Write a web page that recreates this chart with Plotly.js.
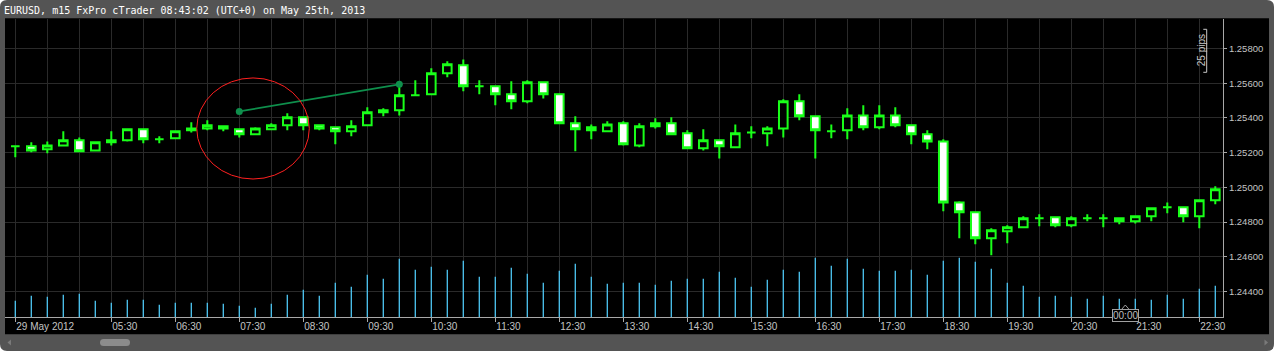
<!DOCTYPE html>
<html>
<head>
<meta charset="utf-8">
<script src="https://cdn.plot.ly/plotly-3.0.1.min.js"></script>
<style>
  html, body { margin: 0; padding: 0; background: #ffffff; }
  #chart { width: 1274px; height: 351px; }
</style>
</head>
<body>
<div id="chart"></div>
<script>
// ---- data ----
const day = "2012-05-29";
const times = ["04:00","04:15","04:30","04:45","05:00","05:15","05:30","05:45","06:00","06:15",
  "06:30","06:45","07:00","07:15","07:30","07:45","08:00","08:15","08:30","08:45",
  "09:00","09:15","09:30","09:45","10:00","10:15","10:30","10:45","11:00","11:15",
  "11:30","11:45","12:00","12:15","12:30","12:45","13:00","13:15","13:30","13:45",
  "14:00","14:15","14:30","14:45","15:00","15:15","15:30","15:45","16:00","16:15",
  "16:30","16:45","17:00","17:15","17:30","17:45","18:00","18:15","18:30","18:45",
  "19:00","19:15","19:30","19:45","20:00","20:15","20:30","20:45","21:00","21:15",
  "21:30","21:45","22:00","22:15","22:30","22:45"];

const openP = [1.25237,1.25237,1.25219,1.25242,1.25271,1.25213,1.25260,1.25271,1.25335,1.25277,
  1.25283,1.25329,1.25340,1.25352,1.25335,1.25306,1.25335,1.25358,1.25404,1.25358,
  1.25346,1.25323,1.25358,1.25444,1.25444,1.25531,1.25537,1.25658,1.25704,1.25583,
  1.25583,1.25537,1.25496,1.25606,1.25537,1.25369,1.25346,1.25323,1.25369,1.25242,
  1.25352,1.25369,1.25312,1.25225,1.25271,1.25231,1.25317,1.25312,1.25340,1.25496,
  1.25410,1.25323,1.25329,1.25415,1.25346,1.25415,1.25358,1.25306,1.25265,1.24913,
  1.24856,1.24706,1.24746,1.24769,1.24821,1.24827,1.24781,1.24821,1.24821,1.24821,
  1.24804,1.24833,1.24885,1.24885,1.24833,1.24925];

const highP = [1.25237,1.25260,1.25265,1.25323,1.25288,1.25260,1.25323,1.25340,1.25335,1.25294,
  1.25329,1.25375,1.25387,1.25358,1.25340,1.25346,1.25369,1.25427,1.25404,1.25363,
  1.25352,1.25387,1.25462,1.25456,1.25594,1.25617,1.25687,1.25727,1.25738,1.25617,
  1.25583,1.25612,1.25617,1.25606,1.25542,1.25410,1.25363,1.25381,1.25381,1.25369,
  1.25398,1.25404,1.25329,1.25335,1.25271,1.25363,1.25352,1.25352,1.25508,1.25537,
  1.25415,1.25363,1.25456,1.25473,1.25473,1.25462,1.25363,1.25329,1.25277,1.24919,
  1.24856,1.24764,1.24781,1.24833,1.24844,1.24833,1.24833,1.24844,1.24844,1.24827,
  1.24833,1.24885,1.24913,1.24885,1.24931,1.25006];

const lowP = [1.25173,1.25202,1.25196,1.25242,1.25208,1.25208,1.25242,1.25265,1.25254,1.25254,
  1.25277,1.25317,1.25329,1.25323,1.25288,1.25306,1.25335,1.25329,1.25329,1.25329,
  1.25248,1.25294,1.25352,1.25410,1.25415,1.25525,1.25537,1.25635,1.25554,1.25537,
  1.25473,1.25450,1.25485,1.25513,1.25369,1.25208,1.25277,1.25323,1.25242,1.25231,
  1.25340,1.25306,1.25219,1.25213,1.25167,1.25231,1.25283,1.25237,1.25288,1.25387,
  1.25167,1.25283,1.25277,1.25329,1.25335,1.25346,1.25248,1.25219,1.24862,1.24706,
  1.24671,1.24608,1.24677,1.24764,1.24775,1.24769,1.24769,1.24804,1.24769,1.24787,
  1.24792,1.24804,1.24850,1.24798,1.24764,1.24902];

const closeP = [1.25237,1.25213,1.25242,1.25271,1.25208,1.25260,1.25271,1.25335,1.25277,1.25277,
  1.25323,1.25340,1.25358,1.25340,1.25306,1.25340,1.25358,1.25404,1.25358,1.25340,
  1.25323,1.25352,1.25433,1.25433,1.25531,1.25531,1.25658,1.25710,1.25583,1.25583,
  1.25537,1.25496,1.25606,1.25537,1.25369,1.25335,1.25329,1.25363,1.25248,1.25352,
  1.25369,1.25306,1.25225,1.25271,1.25237,1.25312,1.25317,1.25340,1.25496,1.25410,
  1.25329,1.25323,1.25415,1.25346,1.25415,1.25358,1.25306,1.25265,1.24913,1.24856,
  1.24706,1.24752,1.24769,1.24821,1.24821,1.24781,1.24821,1.24821,1.24821,1.24804,
  1.24833,1.24879,1.24885,1.24833,1.24925,1.24989];

const volume = [163,213,203,223,233,163,143,173,173,123,
  143,143,143,133,113,93,133,223,273,213,
  343,303,423,383,583,473,503,473,563,403,
  403,493,433,343,463,533,403,333,343,343,
  323,363,383,383,453,393,303,373,473,453,
  593,513,583,483,463,463,473,423,563,593,
  553,483,343,313,203,213,203,183,213,183,
  183,173,223,183,283,313];

const tickTimes = ["04:00","05:30","06:30","07:30","08:30","09:30","10:30","11:30","12:30","13:30",
  "14:30","15:30","16:30","17:30","18:30","19:30","20:30","21:30","22:30"];
const tickLabels = ["29 May 2012","05:30","06:30","07:30","08:30","09:30","10:30","11:30","12:30","13:30",
  "14:30","15:30","16:30","17:30","18:30","19:30","20:30","21:30","22:30"];

const trendTimes = ["07:30","10:00"];
const trendPrices = [1.25438, 1.25594];

const titleText = "EURUSD, m15 FxPro cTrader 08:43:02 (UTC+0) on May 25th, 2013";

// ---- layout helpers (pixel -> paper) ----
const L = 5, T = 19, W = 1218, H = 298;
const PX = x => (x - L) / W;
const PY = y => (T + H - y) / H;
function rr(x0, y0, x1, y1, r) {
  return `M${PX(x0 + r)},${PY(y0)} L${PX(x1 - r)},${PY(y0)} Q${PX(x1)},${PY(y0)} ${PX(x1)},${PY(y0 + r)} ` +
    `L${PX(x1)},${PY(y1 - r)} Q${PX(x1)},${PY(y1)} ${PX(x1 - r)},${PY(y1)} ` +
    `L${PX(x0 + r)},${PY(y1)} Q${PX(x0)},${PY(y1)} ${PX(x0)},${PY(y1 - r)} ` +
    `L${PX(x0)},${PY(y0 + r)} Q${PX(x0)},${PY(y0)} ${PX(x0 + r)},${PY(y0)} Z`;
}

const xs = times.map(t => day + " " + t);
const green = "#19ff19";

const candles = {
  type: "candlestick",
  x: xs, open: openP, high: highP, low: lowP, close: closeP,
  increasing: { line: { color: green, width: 2 }, fillcolor: "#000000" },
  decreasing: { line: { color: green, width: 2 }, fillcolor: "#ffffff" },
  whiskerwidth: 0,
  hoverinfo: "skip",
  showlegend: false
};

const vol = {
  type: "bar",
  x: xs, y: volume, yaxis: "y2",
  width: 75000,
  marker: { color: "#4cc2ee", line: { width: 0 } },
  hoverinfo: "skip",
  showlegend: false
};

const trend = {
  type: "scatter", mode: "lines+markers",
  x: trendTimes.map(t => day + " " + t), y: trendPrices,
  line: { color: "#0e8f4c", width: 1.6 },
  marker: { color: "#0e8f4c", size: 7 },
  hoverinfo: "skip", showlegend: false
};

const labelColor = "#c4c4c4";
const gridColor = "#2a2a2a";

const layout = {
  width: 1274, height: 351,
  margin: { l: L, r: 1274 - L - W, t: T, b: 351 - T - H, pad: 0 },
  paper_bgcolor: "#ffffff",
  plot_bgcolor: "#000000",
  showlegend: false,
  boxgap: 0.3, boxgroupgap: 0.23,
  title: {
    text: titleText,
    x: 4 / 1274, xref: "container", xanchor: "left",
    y: 1 - 10 / 351, yref: "container", yanchor: "middle",
    font: { family: "DejaVu Sans Mono", size: 10, color: "#ffffff" }
  },
  xaxis: {
    type: "date",
    range: [day + " 03:50:20", day + " 22:52:13"],
    rangeslider: { visible: false },
    tickmode: "array",
    tickvals: tickTimes.map(t => day + " " + t),
    ticktext: tickLabels,
    ticklabelposition: "outside right",
    ticks: "outside", ticklen: 4, tickcolor: "#a8a8a8", tickwidth: 1,
    showline: true, linecolor: "#a8a8a8", linewidth: 1,
    showgrid: true, gridcolor: gridColor, gridwidth: 1,
    minor: { tickmode: "linear", tick0: day + " 04:00", dtick: 1800000, showgrid: true, gridcolor: gridColor, gridwidth: 1, ticks: "" },
    tickfont: { family: "Liberation Sans", size: 10, color: labelColor },
    zeroline: false, fixedrange: true
  },
  yaxis: {
    side: "right",
    range: [1.24252, 1.25971],
    tickmode: "linear", tick0: 1.244, dtick: 0.002,
    tickformat: ".5f",
    ticks: "outside", ticklen: 3, tickcolor: "#a8a8a8",
    showline: true, linecolor: "#a8a8a8", linewidth: 1,
    showgrid: true, gridcolor: gridColor, gridwidth: 1,
    tickfont: { family: "Liberation Sans", size: 9.5, color: labelColor },
    zeroline: false, fixedrange: true
  },
  yaxis2: {
    overlaying: "y", range: [0, 2980], visible: false, fixedrange: true
  },
  shapes: [
    // outer frame
    { type: "path", xref: "paper", yref: "paper", layer: "below", path: rr(0, 0, 1274, 351, 7),
      fillcolor: "#545454", line: { width: 0 } },
    // black chart area (incl. axis label zones)
    { type: "rect", xref: "paper", yref: "paper", layer: "below",
      x0: PX(5), x1: PX(1269), y0: PY(334.3), y1: PY(18.3),
      fillcolor: "#000000", line: { width: 0 } },
    // scrollbar thumb
    { type: "path", xref: "paper", yref: "paper", layer: "above", path: rr(100, 339, 130, 346, 3.5),
      fillcolor: "#8c8c8c", line: { width: 0 } },
    // scrollbar arrows
    { type: "path", xref: "paper", yref: "paper", layer: "above",
      path: `M${PX(7.5)},${PY(342.5)} L${PX(11)},${PY(339.5)} L${PX(11)},${PY(345.5)} Z`,
      fillcolor: "#7a7a7a", line: { width: 0 } },
    { type: "path", xref: "paper", yref: "paper", layer: "above",
      path: `M${PX(1268)},${PY(342.5)} L${PX(1264.5)},${PY(339.5)} L${PX(1264.5)},${PY(345.5)} Z`,
      fillcolor: "#7a7a7a", line: { width: 0 } },
    // 25 pips bracket
    { type: "path", xref: "paper", yref: "paper", layer: "above",
      path: `M${PX(1203.3)},${PY(29.3)} L${PX(1206.7)},${PY(29.3)} L${PX(1206.7)},${PY(72.3)} L${PX(1203.3)},${PY(72.3)}`,
      line: { color: "#c8c8c8", width: 1 } },
    // red circle
    { type: "circle", xref: "x", yref: "y", layer: "above",
      x0: day + " 06:50:06", x1: day + " 08:35:37", y0: 1.25048, y1: 1.25631,
      line: { color: "#ff2020", width: 1 } },
    // 00:00 caret
    { type: "path", xref: "paper", yref: "paper", layer: "above",
      path: `M${PX(1121.7)},${PY(309.3)} L${PX(1125.3)},${PY(305)} L${PX(1129)},${PY(309.3)}`,
      line: { color: "#a0a0a0", width: 1 } }
  ],
  annotations: [
    { xref: "paper", yref: "paper", x: PX(1201.7), y: PY(50.5), text: "25 pips", textangle: -90,
      showarrow: false, font: { family: "Liberation Sans", size: 10, color: "#c8c8c8" },
      xanchor: "center", yanchor: "middle" },
    { xref: "paper", yref: "paper", x: PX(1125), y: PY(315), text: "00:00",
      showarrow: false, font: { family: "Liberation Sans", size: 10, color: "#bdbdbd" },
      bgcolor: "#000000", bordercolor: "#a0a0a0", borderwidth: 1, borderpad: 0,
      xanchor: "center", yanchor: "middle" }
  ]
};

Plotly.newPlot("chart", [vol, candles, trend], layout, { staticPlot: true, displayModeBar: false });
</script>
</body>
</html>
